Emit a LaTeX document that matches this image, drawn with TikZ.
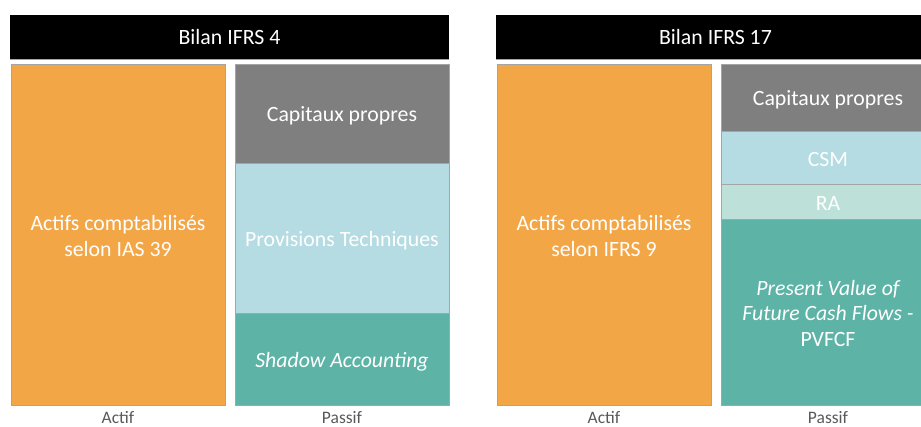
\documentclass[tikz,border=0pt]{standalone}
\usepackage{fontspec}
\setmainfont{Carlito}
\definecolor{orangebox}{HTML}{F3A646}
\definecolor{graybox}{HTML}{7F7F7F}
\definecolor{bluebox}{HTML}{B4DCE2}
\definecolor{rabox}{HTML}{BDE0D9}
\definecolor{tealbox}{HTML}{5CB3A6}
\definecolor{labelgray}{HTML}{595959}
\definecolor{edgegray}{HTML}{A5A5A5}
\newcommand{\lowertxt}[1]{\raisebox{-2.5pt}[\height][\depth]{#1}}
\begin{document}
\begin{tikzpicture}[x=1pt,y=-1pt,
  blk/.style={anchor=north west,inner sep=0pt,outer sep=0pt,draw=edgegray,line width=0.4pt,
    text=white,align=center,font=\fontsize{21.8}{25.8}\selectfont},
  titlebar/.style={anchor=north west,inner sep=0pt,outer sep=0pt,fill=black,text=white,
    font=\fontsize{21.8}{24}\selectfont,minimum width=439pt,minimum height=44pt},
  lbl/.style={text=labelgray,font=\fontsize{17.5}{18}\selectfont,inner sep=0pt,anchor=base}]
\useasboundingbox (0,0) rectangle (921,427);
\clip (0,0) rectangle (921,427);
% title bars
\draw[graybox!70,line width=1.2pt] (10,59.6) -- (449,59.6);
\draw[graybox!70,line width=1.2pt] (496,59.6) -- (935,59.6);
\node[titlebar] (t4) at (10,15) {Bilan IFRS 4};
\node[titlebar] (t17) at (496,15) {Bilan IFRS 17};
% IFRS 4
\node[blk,fill=orangebox,minimum width=214pt,minimum height=341pt] (a4) at (11,64)
  {\strut Actifs comptabilisés\\selon IAS 39};
\node[blk,fill=graybox,minimum width=214pt,minimum height=99pt] (cp4) at (235,64) {\lowertxt{Capitaux propres}};
\node[blk,fill=bluebox,minimum width=214pt,minimum height=150pt] (pt4) at (235,163) {\lowertxt{Provisions Techniques}};
\node[blk,fill=tealbox,minimum width=214pt,minimum height=92pt] (sa4) at (235,313) {\lowertxt{\itshape Shadow Accounting}};
\node[lbl] (la4) at (118,424) {Actif};
\node[lbl] (lp4) at (342,424) {Passif};
% IFRS 17
\node[blk,fill=orangebox,minimum width=214pt,minimum height=341pt] (a17) at (497,64)
  {\strut Actifs comptabilisés\\selon IFRS 9};
\node[blk,fill=graybox,minimum width=214pt,minimum height=67pt] (cp17) at (721,64) {\lowertxt{Capitaux propres}};
\node[blk,fill=bluebox,minimum width=214pt,minimum height=53pt] (csm) at (721,131) {\lowertxt{CSM}};
\node[blk,fill=rabox,minimum width=214pt,minimum height=35pt] (ra) at (721,184) {\lowertxt{RA}};
\node[blk,fill=tealbox,minimum width=214pt,minimum height=186pt] (pv) at (721,219)
  {\strut\itshape Present Value of\\\itshape Future Cash Flows -\\PVFCF};
\node[lbl] (la17) at (604,424) {Actif};
\node[lbl] (lp17) at (828,424) {Passif};
\end{tikzpicture}
\end{document}
